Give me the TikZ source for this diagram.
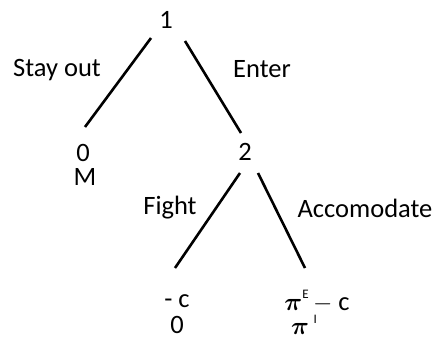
\documentclass[tikz,border=0pt]{standalone}
\usepackage{fontspec}
\setmainfont{Carlito}
\newcommand{\bigpi}{{\fontsize{32}{32}\selectfont$\boldsymbol{\pi}$}}
\usepackage{amsmath}
\begin{document}
\begin{tikzpicture}[x=1pt,y=-1pt,
  lbl/.style={inner sep=0pt,font=\fontsize{26.5}{28}\selectfont},
  edge/.style={line width=2.6pt}]
\useasboundingbox (0,0) rectangle (437,340);
\node[lbl] (n1) at (166,20) {1};
\node[lbl] (p0) at (83,153) {0};
\node[lbl] (pM) at (85,177) {M};
\node[lbl] (n2) at (245,152) {2};
\node[lbl] (fa) at (177,301) {- c};
\node[lbl] (fb) at (177,325) {0};
\node[lbl] (aa) at (317,301) {\bigpi\raisebox{0.45em}{\fontsize{13}{13}\selectfont E}\,$-$ c};
\node[lbl] (ab) at (304,325) {\bigpi\,\raisebox{0.4em}{\fontsize{13}{13}\selectfont I}};
\coordinate (e1a) at (151,38); \coordinate (e1b) at (85,127);
\coordinate (e2a) at (185,41); \coordinate (e2b) at (241,133);
\coordinate (e3a) at (240,173); \coordinate (e3b) at (175,268);
\coordinate (e4a) at (258,173); \coordinate (e4b) at (305,268);
\draw[edge] (e1a) -- (e1b);
\draw[edge] (e2a) -- (e2b);
\draw[edge] (e3a) -- (e3b);
\draw[edge] (e4a) -- (e4b);
\node[lbl] (so) at (57,70) {Stay out};
\node[lbl] (en) at (262,69) {Enter};
\node[lbl] (fi) at (170,208) {Fight};
\node[lbl] (ac) at (365,208) {Accomodate};
\end{tikzpicture}
\end{document}
